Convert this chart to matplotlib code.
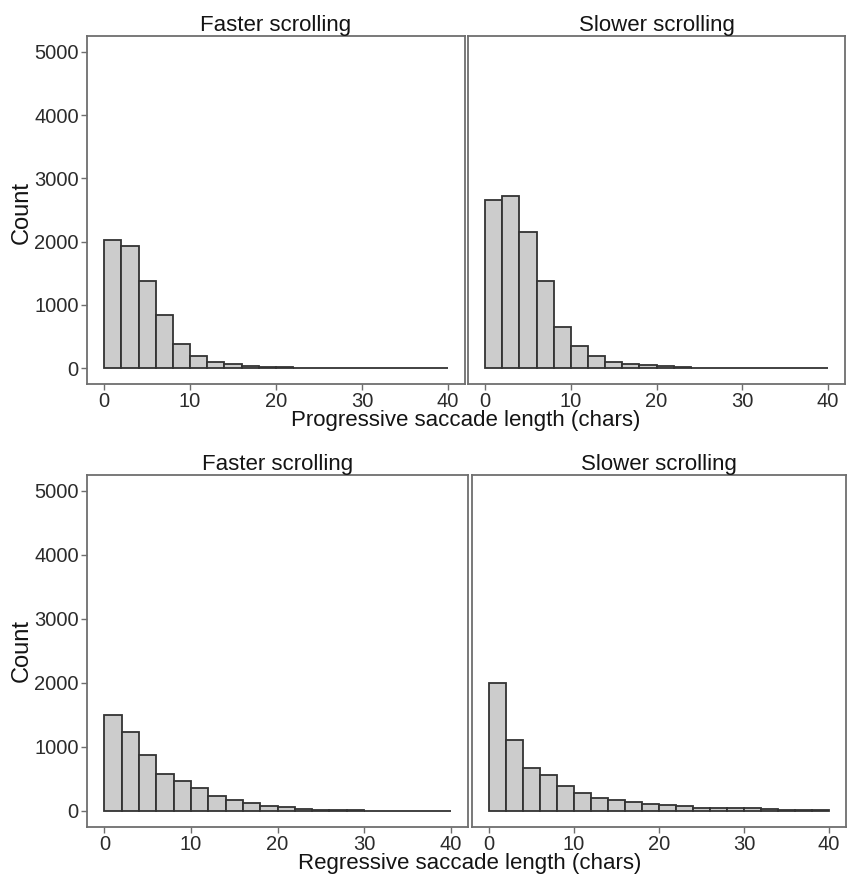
import numpy as np
import matplotlib
matplotlib.use("Agg")
import matplotlib.pyplot as plt

plt.rcParams["font.family"] = ["Liberation Sans", "DejaVu Sans"]

# Histogram bins: 2-character wide bins from 0 to 40
bin_edges = np.arange(0, 42, 2)

# Progressive saccades
prog_faster = [2030, 1935, 1370, 835, 378, 190, 100, 68, 30, 20,
               15, 8, 5, 4, 3, 2, 2, 1, 1, 1]
prog_slower = [2665, 2715, 2160, 1380, 655, 358, 189, 105, 63, 58,
               30, 20, 8, 5, 4, 3, 2, 2, 1, 1]

# Regressive saccades
reg_faster = [1500, 1240, 880, 585, 470, 364, 234, 172, 120, 83,
              58, 32, 20, 15, 10, 6, 5, 4, 3, 3]
reg_slower = [2000, 1115, 667, 567, 395, 286, 208, 177, 135, 109,
              99, 78, 52, 52, 47, 40, 25, 22, 15, 15]

panel_titles = ["Faster scrolling", "Slower scrolling"]
x_ticks = [0, 10, 20, 30, 40]
y_ticks = [0, 1000, 2000, 3000, 4000, 5000]

W, H = 847, 875
fig = plt.figure(figsize=(W / 100, H / 100), dpi=100)


def px_axes(x0, y0, x1, y1):
    return fig.add_axes([x0 / W, 1 - y1 / H, (x1 - x0) / W, (y1 - y0) / H])


frame_col = "#6e6e6e"
text_col = "#2b2b2b"
title_col = "#141414"


def draw_panel(ax, counts, title, show_y):
    ax.bar(bin_edges[:-1], counts, width=2, align="edge",
           color="#cccccc", edgecolor="#333333", linewidth=1.3)
    ax.set_xlim(-2, 42)
    ax.set_ylim(-250, 5250)
    ax.set_xticks(x_ticks)
    ax.set_yticks(y_ticks)
    for s in ax.spines.values():
        s.set_color(frame_col)
        s.set_linewidth(1.3)
    ax.tick_params(axis="both", direction="out", length=4, width=1,
                   color=frame_col, labelcolor=text_col, labelsize=14.5,
                   pad=2)
    if not show_y:
        ax.tick_params(axis="y", left=False, labelleft=False)
    ax.set_title(title, fontsize=16, color=title_col, pad=1.5)


# Top row: progressive saccades
ax_tl = px_axes(87, 36, 465, 384)
ax_tr = px_axes(468, 36, 845, 384)
draw_panel(ax_tl, prog_faster, panel_titles[0], True)
draw_panel(ax_tr, prog_slower, panel_titles[1], False)
fig.text(22 / W, 1 - 212 / H, "Count", rotation=90, ha="center",
         va="center", fontsize=17, color=title_col)
fig.text(466 / W, 1 - 421 / H, "Progressive saccade length (chars)",
         ha="center", va="center", fontsize=16, color=title_col)

# Bottom row: regressive saccades
ax_bl = px_axes(87, 475, 468, 827)
ax_br = px_axes(472, 475, 846, 827)
draw_panel(ax_bl, reg_faster, panel_titles[0], True)
draw_panel(ax_br, reg_slower, panel_titles[1], False)
fig.text(22 / W, 1 - 651 / H, "Count", rotation=90, ha="center",
         va="center", fontsize=17, color=title_col)
fig.text(470 / W, 1 - 863 / H, "Regressive saccade length (chars)",
         ha="center", va="center", fontsize=16, color=title_col)

fig.savefig("out.png", dpi=100, facecolor="white")
